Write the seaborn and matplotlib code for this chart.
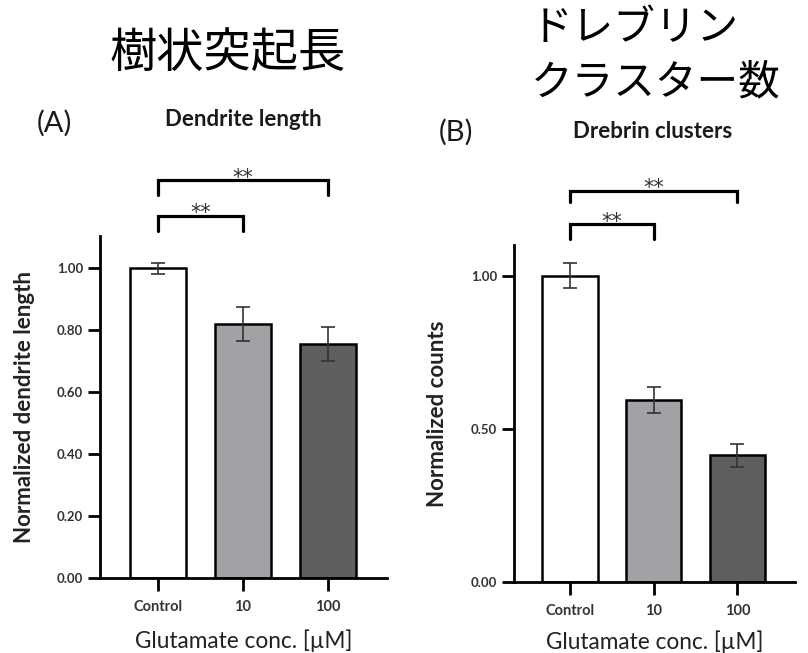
import matplotlib
matplotlib.use("Agg")
import matplotlib.pyplot as plt
import seaborn as sns
import pandas as pd

categories = ["Control", "10", "100"]
dendrite_mean = [1.00, 0.82, 0.755]
dendrite_err = [0.018, 0.055, 0.056]
drebrin_mean = [1.00, 0.594, 0.413]
drebrin_err = [0.040, 0.043, 0.037]
bar_colors = ["#ffffff", "#a2a2a6", "#5f5f61"]
yticks_a = [0.0, 0.2, 0.4, 0.6, 0.8, 1.0]
yticks_b = [0.0, 0.5, 1.0]

sns.set_theme(style="ticks")
plt.rcParams["font.family"] = ["Lato", "Noto Sans CJK JP", "DejaVu Sans"]

W, H = 808, 653
fig = plt.figure(figsize=(W / 100, H / 100), dpi=100)


def px_axes(l, t, r, b):
    return fig.add_axes([l / W, 1 - b / H, (r - l) / W, (b - t) / H])


def fx(x):
    return x / W


def fy(y):
    return 1 - y / H


def draw_panel(ax, means, errs, yticks, ymax, ylabel, xlim, ylab_x, xlab_y, brackets):
    df = pd.DataFrame({"cond": categories, "val": means})
    sns.barplot(data=df, x="cond", y="val", hue="cond", palette=bar_colors,
                width=0.66, edgecolor="black", linewidth=1.8, errorbar=None,
                legend=False, ax=ax, saturation=1)
    ax.errorbar(range(len(categories)), means, yerr=errs, fmt="none",
                ecolor="#333333", elinewidth=1.2, capsize=5, capthick=1.2, zorder=5)
    ax.set_ylim(0, ymax)
    ax.set_xlim(*xlim)
    ax.set_yticks(yticks)
    ax.set_yticklabels([f"{v:.2f}" for v in yticks], fontsize=9.5, fontweight="bold", color="#333333")
    ax.set_xticks(range(len(categories)))
    ax.set_xticklabels(categories, fontsize=10.5, fontweight="bold", color="#333333")
    for s in ["top", "right"]:
        ax.spines[s].set_visible(False)
    for s in ["left", "bottom"]:
        ax.spines[s].set_linewidth(2)
        ax.spines[s].set_color("black")
    ax.tick_params(axis="both", length=9, width=2, color="black", pad=3)
    ax.tick_params(axis="x", pad=7)
    ax.set_ylabel(ylabel, fontsize=16, fontweight="bold", color="#222222")
    ax.yaxis.set_label_coords(ylab_x, 0.5)
    ax.set_xlabel("Glutamate conc. [µM]", fontsize=16.3, color="#222222", va="center")
    ax.xaxis.set_label_coords(0.5, xlab_y)
    for x0, x1, ytop, yleg, ystar in brackets:
        ax.plot([x0, x0, x1, x1], [yleg, ytop, ytop, yleg], color="black",
                linewidth=2.3, clip_on=False, solid_joinstyle="miter")
        ax.text((x0 + x1) / 2, ystar, "**", ha="center", va="baseline",
                fontsize=15, color="#333333", clip_on=False, family="DejaVu Sans")


axA = px_axes(100, 236, 387, 578)
draw_panel(axA, dendrite_mean, dendrite_err, yticks_a, 1.104,
           "Normalized dendrite length", (-0.682, 2.694), -0.226, -0.182,
           [(0, 2, 1.285, 1.237, 1.272), (0, 1, 1.167, 1.12, 1.159)])

axB = px_axes(514, 245, 795, 582)
draw_panel(axB, drebrin_mean, drebrin_err, yticks_b, 1.10,
           "Normalized counts", (-0.669, 2.687), -0.235, -0.178,
           [(0, 2, 1.276, 1.239, 1.268), (0, 1, 1.167, 1.121, 1.157)])

fig.text(fx(54), fy(123), "(A)", fontsize=21, ha="center", va="center", color="#1a1a1a")
fig.text(fx(243), fy(120), "Dendrite length", fontsize=16, fontweight="bold",
         ha="center", va="center", color="#1a1a1a")
fig.text(fx(456), fy(132), "(B)", fontsize=21, ha="center", va="center", color="#1a1a1a")
fig.text(fx(653), fy(131), "Drebrin clusters", fontsize=16, fontweight="bold",
         ha="center", va="center", color="#1a1a1a")

jp = ["Noto Sans CJK JP", "DejaVu Sans"]
fig.text(fx(228), fy(54), "樹状突起長", fontsize=34, ha="center", va="center",
         family=jp, color="black")
fig.text(fx(531), fy(28), "ドレブリン", fontsize=30, ha="left", va="center",
         family=jp, color="black")
fig.text(fx(531), fy(83), "クラスター数", fontsize=30, ha="left", va="center",
         family=jp, color="black")

fig.savefig("out.png", dpi=100, facecolor="white")
